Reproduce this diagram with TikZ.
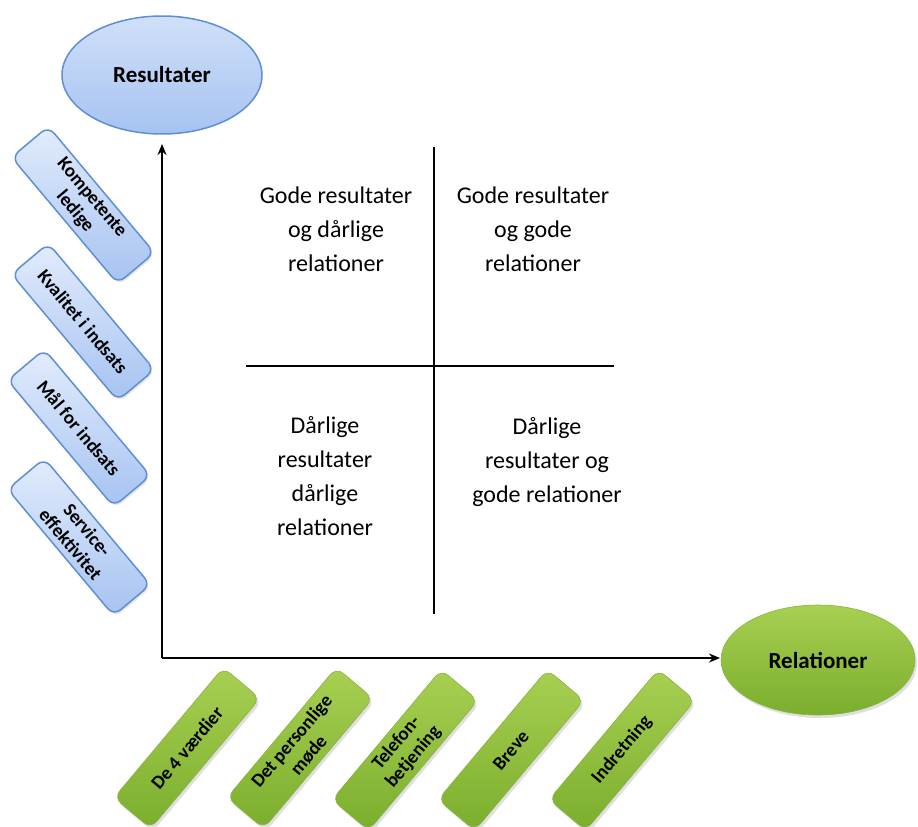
\documentclass[tikz,border=0pt]{standalone}
\usepackage{fontspec}
\setmainfont{Carlito}
\usetikzlibrary{shapes.geometric,shadows,arrows.meta}
\definecolor{blueedge}{HTML}{5F8ED4}
\definecolor{bluetop}{HTML}{E2ECFC}
\definecolor{bluebot}{HTML}{A6C3F1}
\definecolor{greentop}{HTML}{A8D052}
\definecolor{greenbot}{HTML}{7BAE2E}
\definecolor{greenedge}{HTML}{86B43C}
\begin{document}
\begin{tikzpicture}[x=1pt,y=-1pt,
  ell/.style={ellipse, inner sep=0pt, font=\bfseries\fontsize{23}{25}\selectfont},
  blueell/.style={ell, draw=blueedge, line width=1.5pt, top color=bluetop!70!bluebot, bottom color=bluebot, minimum width=200pt, minimum height=118pt},
  greenell/.style={ell, draw=greenedge, line width=0.6pt, top color=greentop, bottom color=greenbot, minimum width=194pt, minimum height=110pt, drop shadow={opacity=0.25, shadow xshift=2pt, shadow yshift=-3pt}},
  bluebox/.style={draw=blueedge, line width=1.5pt, rounded corners=9pt, top color=bluetop, bottom color=bluebot, minimum width=165pt, minimum height=48pt, inner sep=1pt, align=center, rotate=-50, font=\bfseries\fontsize{19}{22}\selectfont, drop shadow={opacity=0.2, shadow xshift=1.5pt, shadow yshift=-2pt}},
  greenbox/.style={draw=greenedge, line width=0.6pt, rounded corners=9pt, top color=greentop, bottom color=greenbot, minimum width=170pt, minimum height=48pt, inner sep=1pt, align=center, rotate=50, font=\bfseries\fontsize{19}{22}\selectfont, drop shadow={opacity=0.25, shadow xshift=2pt, shadow yshift=-3pt}},
  quad/.style={align=center, font=\fontsize{24}{34}\selectfont},
  axis/.style={line width=1.8pt, -{Stealth[length=11pt,width=9pt]}},
  qline/.style={line width=1.8pt}
]
\useasboundingbox[fill=white] (0,0) rectangle (918,827);

\node[blueell] (res) at (162,75) {Resultater};
\node[greenell] (rel) at (818,660) {Relationer};

\coordinate (o) at (162,658);
\coordinate (ytip) at (162,144);
\coordinate (xtip) at (720,658);
\draw[axis] (o) -- (ytip);
\draw[axis] (o) -- (xtip);

\coordinate (vt) at (434,147);
\coordinate (vb) at (434,614);
\coordinate (hl) at (246,366);
\coordinate (hr) at (614,366);
\draw[qline] (vt) -- (vb);
\draw[qline] (hl) -- (hr);

\node[quad] (q1) at (336,229) {Gode resultater\\og dårlige\\relationer};
\node[quad] (q2) at (533,229) {Gode resultater\\og gode\\relationer};
\node[quad] (q3) at (325,476) {Dårlige\\resultater\\dårlige\\relationer};
\node[quad] (q4) at (547,462) {Dårlige\\resultater og\\gode relationer};

\node[bluebox] (b1) at (83,205) {Kompetente\\ledige};
\node[bluebox] (b2) at (83,322) {Kvalitet i indsats};
\node[bluebox] (b3) at (79,428) {Mål for indsats};
\node[bluebox] (b4) at (79,537) {Service-\\effektivitet};

\node[greenbox] (g1) at (187,748) {De 4 værdier};
\node[greenbox] (g2) at (300,748) {Det personlige\\møde};
\node[greenbox] (g3) at (405,750) {Telefon-\\betjening};
\node[greenbox] (g4) at (511,750) {Breve};
\node[greenbox] (g5) at (622,750) {Indretning};
\end{tikzpicture}
\end{document}
